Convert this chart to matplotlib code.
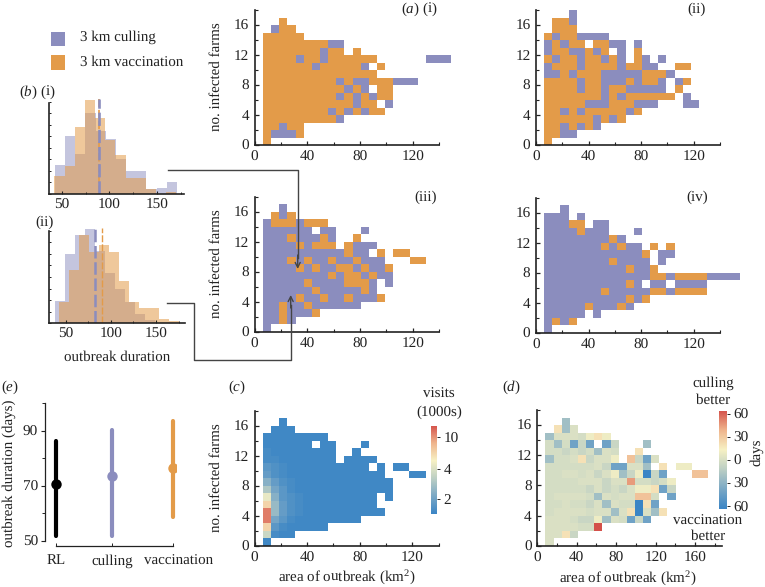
import numpy as np
import matplotlib
matplotlib.use("Agg")
import matplotlib.pyplot as plt
from matplotlib.colors import ListedColormap, LinearSegmentedColormap
from matplotlib.ticker import MultipleLocator
from matplotlib.transforms import ScaledTranslation

plt.rcParams.update({
    "font.family": ["Liberation Serif", "DejaVu Serif"],
    "mathtext.fontset": "custom",
    "mathtext.rm": "Liberation Serif",
    "mathtext.it": "Liberation Serif:italic",
    "text.color": "#222222",
    "text.hinting": "no_hinting",
    "axes.edgecolor": "#222222",
    "xtick.color": "#222222",
    "ytick.color": "#222222",
})

W, H = 765, 587
PURPLE = "#8b8dbe"
ORANGE = "#e39b49"
FS = 10.8

# ---- grids: top row first; o = vaccination better, b = culling better, . = no data
grid_i = [
    "",
    "..o",
    ".boo",
    "ooooo",
    "oooooooobb",
    "oooooooboo.o",
    "oooobooboooooo......bbb",
    "oooooobooooob.o",
    "oooooooooooooo",
    "ooooooooobobbooobbb",
    "oooooooooobob.oo",
    "ooooooooobobo" + "boo",
    "ooooooooooo" + "boo.b",
    "oooooooobobob" + "oo",
    "ooooooooob",
    "ooboo",
    "obbbo",
    "o",
]
grid_ii = [
    "...b",
    ".oob",
    ".ooo",
    "oboobbbb",
    "boboo.oobb.b",
    "boobbobo.b.o",
    "obooboobob.ob.b",
    "booobooooboobb..oo",
    "bbobooobbbbbooob",
    "ooooboobbboboob.bo",
    "oooobooboobbbbb.o",
    "ooooooobob" + "oooooo.b",
    "ooooobbbooobbb...bb",
    "oobobooooobo",
    "oooooobobo",
    "oobobob",
    "oobb",
    "o",
]
grid_iii = [
    "",
    "..b",
    ".obo",
    "booobooo",
    "bbbbbb.bb...b",
    "bbbobbbob..o",
    "bbbbobooo.obbb",
    "bbbbbbbbbbobb.o.oo",
    "bbbobobbobbobbb...oo",
    "bbbbobobboobobbo",
    "bbbbbbbboboobobb",
    "bbbbbobbbbooob.b",
    "bbbbbbobbbbbob",
    "bbbbobbobbobbbo",
    "bbobbobbbbbb",
    "bbobbbo",
    "bbob",
    "b",
]
grid_iv = [
    "",
    "..b",
    "bbb.b",
    "bbboo.bb",
    "bbbbobbb...b",
    "bbbbbbbbob",
    "bbbbbbbobobb.o.o",
    "bbbbbbbbbbbbo.bb",
    "bbbbbbbbobbbb.b",
    "bbbbbbbbbbobbo",
    "bbbbbbbbbbbbboobooo" + "obbbb",
    "bbbbbbbbbbob.bb.bbbb",
    "bbbbbbbobbbbboobooo" + "o",
    "bbbbbbbbbbobo",
    "bbbbbobbbob",
    "bbbbb.b",
    "bobo",
    "b",
]

# ---- visits (1000s): letter = level
visit_levels = dict(a=1.1, b=1.25, c=1.4, d=1.6, e=1.8, f=2.1, g=2.4, h=2.7, i=3.1,
                    j=3.6, k=4.6, l=7.0, m=10.6)
grid_c = [
    "",
    "..a",
    ".aaa",
    "aaaaaaaa",
    "aaaaaa.aa...a",
    "baaaaaaaa..a",
    "bbaaaaaaa.aaaa",
    "dcbaaaaaaaaaa.a.aa",
    "ecbaaaaaaaaaaaa...aa",
    "gecbaaaaaaaaaaaa",
    "ifdbaaaaaaaaaaaa",
    "kgdcbaaaaaaaaa.a",
    "lhecbaaaaaaaaa",
    "mhecbaaaaaaaaaa",
    "mfdbaaaaaaaa",
    "ldbaaaaa",
    "jbaa",
    "a",
]

# ---- days difference: letter/digit = level
day_levels = {"0": 0, "1": -2, "2": -7, "3": -22, "4": -40, "5": -60,
              "A": 8, "B": 18, "C": 30, "D": 42, "E": 60}
grid_d = [
    "",
    "..3",
    ".B30",
    "30001ABA",
    "131424.42...3",
    "112121301..B",
    "3110B200A.C240",
    "1111110244003.B.AA",
    "11001020A32A524...CC",
    "1111000200D1121A",
    "11111202120AAB42",
    "10000130100CC1.4",
    "110112030115B4",
    "1000010030B503B",
    "000122A301424",
    "000011E",
    "00B2",
    "0",
]

# ---- panel (b) histograms, counts per bin
bi_culling = [12.4, 24.9, 17.4, 34.9, 27.4, 23.6, 15.3, 9.9, 9.9, 2.1, 2.4, 5.0]
bi_vacc = [7.7, 12.0, 29.0, 40.6, 33.0, 23.5, 16.7, 7.0, 7.0, 2.1, 0.0, 1.0]
bi_means = [88.6, 88.9]
bii_culling = [9.7, 29.7, 38.1, 40.7, 31.3, 21.9, 14.6, 9.3, 3.9, 1.4, 0.3]
bii_vacc = [9.3, 22.9, 38.3, 30.7, 34.0, 30.7, 18.1, 9.3, 6.6, 6.6, 1.7, 0.9]
bii_means = [82.5, 90.6]

# ---- panel (e)
e_labels = ["RL", "culling", "vaccination"]
e_pos = [0.0, 0.96, 2.0]
e_mean = [70.8, 73.4, 76.6]
e_low = [51.7, 51.7, 58.7]
e_high = [86.3, 90.3, 93.4]
e_colors = ["black", PURPLE, ORANGE]

fig = plt.figure(figsize=(W / 100, H / 100), dpi=100)


def axpx(left, top, right, bottom, **kw):
    return fig.add_axes([left / W, 1 - bottom / H, (right - left) / W, (bottom - top) / H], **kw)


def txt(x, y, s, ha="center", va="center", size=FS, **kw):
    fig.text(x / W, 1 - y / H, s, ha=ha, va=va, fontsize=size, **kw)


def style(ax, xmax, xmajor=40):
    for s in ("top", "right"):
        ax.spines[s].set_visible(False)
    for s in ("left", "bottom"):
        ax.spines[s].set_linewidth(1.2)
    ax.set_xlim(0, xmax)
    ax.set_ylim(0, 18)
    ax.xaxis.set_major_locator(MultipleLocator(xmajor))
    ax.xaxis.set_minor_locator(MultipleLocator(xmajor / 2))
    ax.yaxis.set_major_locator(MultipleLocator(4))
    ax.yaxis.set_minor_locator(MultipleLocator(2))
    ax.tick_params(which="major", direction="in", length=3, width=0.9, labelsize=11, pad=4)
    ax.tick_params(which="minor", direction="in", length=2, width=0.8)


def to_array(grid, mapping):
    ncol = max(len(r) for r in grid)
    arr = np.full((len(grid), ncol), np.nan)
    for i, row in enumerate(grid):
        for j, ch in enumerate(row):
            if ch in mapping:
                arr[len(grid) - 1 - i, j] = mapping[ch]
    return arr


def mesh(ax, arr, binw, **kw):
    xe = binw * (np.arange(arr.shape[1] + 1) + 1)
    ye = np.arange(arr.shape[0] + 1)
    ax.pcolormesh(xe, ye, np.ma.masked_invalid(arr), edgecolors="none", clip_on=False, **kw)


two = ListedColormap([PURPLE, ORANGE])
panel_boxes = [
    (grid_i, 254.7, 10, 439, 145),
    (grid_ii, 536, 10, 720, 145),
    (grid_iii, 254.7, 197, 439, 331.7),
    (grid_iv, 536, 198, 720, 332.7),
]
for grid, l, t, r, b in panel_boxes:
    ax = axpx(l, t, r, b)
    mesh(ax, to_array(grid, {"b": 0, "o": 1}), 6.2, cmap=two, vmin=0, vmax=1)
    style(ax, 140)

div = LinearSegmentedColormap.from_list(
    "div", ["#3b85c5", "#7aa8c6", "#bccfc4", "#f7f1c4", "#efb48c", "#d4504a"]
)

# colour scale of panel (c): value -> position on colourbar
vis_x = [1.0, 2.0, 4.0, 10.0, 12.0]
vis_p = [0.0, 0.17, 0.515, 0.868, 1.0]


class VisNorm(matplotlib.colors.Normalize):
    def __call__(self, value, clip=None):
        return np.ma.masked_invalid(np.interp(np.ma.filled(np.ma.asarray(value, float), np.nan), vis_x, vis_p))


ax = axpx(254.5, 410.7, 438.7, 545.7)
mesh(ax, to_array(grid_c, visit_levels), 6.2, cmap=div, norm=VisNorm())
style(ax, 140)

ax = axpx(537.3, 410, 721.7, 545.7)
mesh(ax, to_array(grid_d, day_levels), 8.25, cmap=div, vmin=-60, vmax=60)
style(ax, 187)

# colourbars
grad = np.linspace(0, 1, 256).reshape(-1, 1)
cb = axpx(431.3, 425.7, 437.3, 514.3)
cb.imshow(grad, origin="lower", aspect="auto", cmap=div, extent=[0, 1, 0, 1], vmin=0, vmax=1)
cb.set_xticks([])
cb.yaxis.tick_right()
cb.set_yticks(np.interp([2, 4, 10], vis_x, vis_p), ["2", "4", "10"])
cb.tick_params(length=2, width=0.7, labelsize=11, pad=2.5)
for s in cb.spines.values():
    s.set_visible(False)

cb = axpx(719.3, 410.7, 726.7, 509.3)
cb.imshow(grad, origin="lower", aspect="auto", cmap=div, extent=[0, 1, -64, 64], vmin=0, vmax=1)
cb.set_xticks([])
cb.yaxis.tick_right()
cb.set_yticks([-60, -30, 0, 30, 60], ["60", "30", "0", "30", "60"])
cb.tick_params(length=2, width=0.7, labelsize=11, pad=2.5)
for s in cb.spines.values():
    s.set_visible(False)


def hist(box, xlim, start_c, start_v, width, culling, vacc, means, lws, ticks_top):
    ax = axpx(*box)
    ax.bar(start_c + width * np.arange(len(culling)), culling, width=width, align="edge",
           color=PURPLE, alpha=0.5, lw=0)
    ax.bar(start_v + width * np.arange(len(vacc)), vacc, width=width, align="edge",
           color=ORANGE, alpha=0.55, lw=0)
    ax.plot([means[1], means[1]], [0, 41], color=ORANGE, lw=lws[1], dashes=(5, 1.5))
    ax.plot([means[0], means[0]], [0, 41], color=PURPLE, lw=lws[0], dashes=(5, 1.5))
    ax.set_xlim(*xlim)
    ax.set_ylim(0, 41)
    for s in ("top", "right"):
        ax.spines[s].set_visible(False)
    ax.spines["left"].set_linewidth(1.2)
    ax.spines["bottom"].set_linewidth(1.2)
    ax.spines["left"].set_bounds(0, ticks_top)
    ax.set_xticks([50, 100, 150])
    ax.xaxis.set_minor_locator(MultipleLocator(25))
    ax.set_yticks([])
    ax.yaxis.set_minor_locator(MultipleLocator(5))
    ax.tick_params(which="major", axis="x", direction="in", length=2.5, width=0.8, labelsize=11, pad=3)
    ax.tick_params(which="minor", direction="in", length=1.5, width=0.7)
    return ax


hist((49, 99.3, 184, 194), (36.3, 178.5), 42.6, 42.0, 10.7, bi_culling, bi_vacc, bi_means, (1.9, 1.2), 39.4)
hist((49.3, 228.3, 185, 323.3), (31.9, 182), 38.0, 42.5, 11.1, bii_culling, bii_vacc, bii_means, (1.8, 1.0), 39.7)

# panel (e)
ax = axpx(45, 403.3, 176, 540.7)
for x, m, lo, hi, c in zip(e_pos, e_mean, e_low, e_high, e_colors):
    ax.plot([x, x], [lo, hi], color=c, lw=3.0, solid_capstyle="round")
    ax.plot([x], [m], "o", color=c, ms=7.5, mew=0)
ax.set_xlim(-0.19, 2.05)
ax.set_ylim(50, 100)
for s in ("top", "right"):
    ax.spines[s].set_visible(False)
ax.spines["left"].set_linewidth(0.9)
ax.spines["bottom"].set_linewidth(0.9)
ax.spines["bottom"].set_position(("outward", 3.6))
ax.spines["bottom"].set_bounds(0, 2)
ax.set_xticks(e_pos, e_labels)
ax.set_yticks([50, 70, 90])
ax.yaxis.set_minor_locator(MultipleLocator(10))
ax.tick_params(axis="y", which="major", direction="out", length=3, width=0.8, labelsize=11, pad=2)
ax.tick_params(axis="y", which="minor", direction="out", length=2, width=0.7)
ax.tick_params(axis="x", direction="in", length=2, width=0.7, labelsize=FS, pad=6)
vac_label = ax.get_xticklabels()[-1]
vac_label.set_transform(vac_label.get_transform() + ScaledTranslation(5 / 100, 0, fig.dpi_scale_trans))

# legend patches and connector lines on a full-figure overlay
ov = fig.add_axes([0, 0, 1, 1], facecolor="none")
ov.set_xlim(0, W)
ov.set_ylim(H, 0)
ov.axis("off")
ov.add_patch(plt.Rectangle((50.7, 31.7), 14.6, 14.6, color=PURPLE, lw=0))
ov.add_patch(plt.Rectangle((50.7, 55), 14.6, 14.6, color=ORANGE, lw=0))
LINE = "#444444"
ov.plot([167.7, 297.7, 297.7], [170, 170, 258], color=LINE, lw=1.0)
ov.annotate("", xy=(297.7, 269), xytext=(297.7, 255),
            arrowprops=dict(arrowstyle="->", color=LINE, lw=1.0, mutation_scale=9, shrinkA=0, shrinkB=0))
ov.plot([167, 194, 194, 290.7, 290.7], [302.7, 302.7, 360.3, 360.3, 305], color=LINE, lw=1.0)
ov.annotate("", xy=(290.7, 295), xytext=(290.7, 308),
            arrowprops=dict(arrowstyle="->", color=LINE, lw=1.0, mutation_scale=9, shrinkA=0, shrinkB=0))

# text
txt(80, 37.3, "3 km culling", ha="left")
txt(80, 62, "3 km vaccination", ha="left")
txt(419, 9, r"($\mathit{a}$) (i)")
txt(697, 9, "(ii)")
txt(425.7, 197, "(iii)")
txt(697, 197, "(iv)")
txt(37, 92, r"($\mathit{b}$) (i)")
txt(45, 222, "(ii)")
txt(237, 387, r"($\mathit{c}$)")
txt(511, 387, r"($\mathit{d}$)")
txt(1, 387, r"($\mathit{e}$)", ha="left")
for yc in (77, 264, 478):
    txt(216, yc, "no. infected farms", rotation=90)
txt(9, 473, "outbreak duration (days)", rotation=90)
txt(117, 357, "outbreak duration")
txt(346.7, 576.5, r"area of outbreak (km$^2$)")
txt(628, 577.5, r"area of outbreak (km$^2$)")
txt(439, 394, "visits")
txt(439, 412.7, "(1000s)")
txt(713, 383, "culling")
txt(713, 400.7, "better")
txt(708, 521.7, "vaccination")
txt(708, 536, "better")
txt(757, 452, "days", rotation=90)

fig.savefig("out.png", dpi=100)
